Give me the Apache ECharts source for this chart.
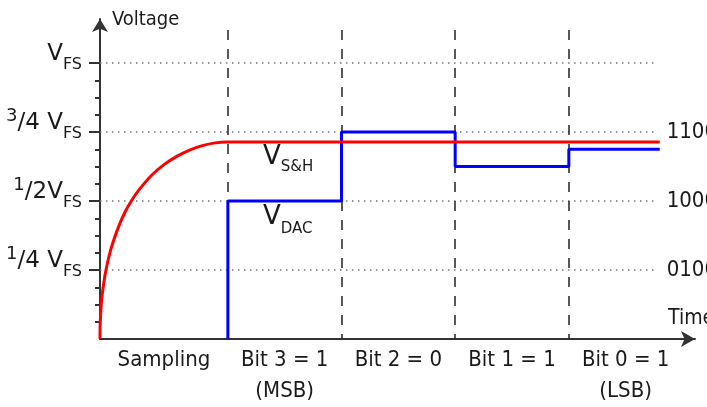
<!DOCTYPE html>
<html>
<head>
<meta charset="utf-8">
<script src="https://cdn.jsdelivr.net/npm/echarts@6/dist/echarts.min.js"></script>
<style>
  html, body { margin: 0; padding: 0; background: #fff; }
  #chart { width: 707px; height: 407px; }
</style>
</head>
<body>
<div id="chart"></div>
<script>
// ---- data ----
const phaseLabels = ['Sampling', 'Bit 3 = 1\n(MSB)', 'Bit 2 = 0', 'Bit 1 = 1', 'Bit 0 = 1\n(LSB)'];
const phaseCenters = [0.5625, 1.625, 2.625, 3.625, 4.625];
const phaseBounds = [1.125, 2.125, 3.125, 4.125];
const endTime = 4.925;
const levelValues = [0.25, 0.5, 0.75, 1];
const levelLabels = ['{n|1}{d|/4 }{v|V}{s|FS}', '{n|1}{d|/2}{v|V}{s|FS}', '{n|3}{d|/4 }{v|V}{s|FS}', '{v|V}{s|FS}'];
const codeLabels = ['0100', '1000', '1100', ''];
const minorTickValues = [0.0625, 0.125, 0.1875, 0.3125, 0.375, 0.4375, 0.5625, 0.625, 0.6875, 0.8125, 0.875, 0.9375];
const sampleHold = [
  [0, 0], [0.001, 0.044], [0.006, 0.092], [0.011, 0.126], [0.023, 0.172], [0.045, 0.234],
  [0.079, 0.299], [0.113, 0.349], [0.169, 0.413], [0.225, 0.464], [0.281, 0.504], [0.338, 0.538],
  [0.45, 0.592], [0.563, 0.632], [0.675, 0.662], [0.788, 0.685], [0.9, 0.701], [1.013, 0.711],
  [1.125, 0.714], [4.925, 0.714]
];
const dacOutput = [
  [1.125, 0], [1.125, 0.5], [2.125, 0.5], [2.125, 0.75], [3.125, 0.75],
  [3.125, 0.625], [4.125, 0.625], [4.125, 0.6875], [4.925, 0.6875]
];
const seriesNames = ['V_S&H', 'V_DAC'];

// ---- chart ----
const condFont = "'DejaVu Sans Condensed', Roboto, sans-serif";
const mainFont = "'DejaVu Sans', Verdana, sans-serif";
const textColor = '#1a1a1a';
const axisColor = '#333';
const chart = echarts.init(document.getElementById('chart'), null, { renderer: 'canvas' });

const gridLines = levelValues.map((v, i) => [
  { coord: [0, v], label: { formatter: codeLabels[i] } },
  { coord: [4.88, v] }
]);
const boundLines = phaseBounds.map(b => [
  { coord: [b, 1.12] },
  { coord: [b, 0] }
]);

chart.setOption({
  animation: false,
  backgroundColor: '#fff',
  grid: { left: 100, right: 12, top: 19, bottom: 68, containLabel: false, outerBoundsMode: 'none' },
  xAxis: {
    type: 'value', min: 0, max: 5.235,
    name: 'Time', nameLocation: 'end', nameGap: -27,
    nameTextStyle: { fontFamily: condFont, fontSize: 21, color: textColor, align: 'left', verticalAlign: 'bottom', padding: [0, 0, 10, 0] },
    axisLine: { show: true, symbol: ['none', 'arrow'], symbolSize: [12, 14], lineStyle: { color: axisColor, width: 2 } },
    axisTick: { show: false },
    splitLine: { show: false },
    axisLabel: {
      customValues: phaseCenters,
      formatter: v => { const i = phaseCenters.findIndex(c => Math.abs(c - v) < 1e-6); return i >= 0 ? phaseLabels[i] : ''; },
      fontFamily: condFont, fontSize: 22, lineHeight: 31, color: textColor, margin: 6
    }
  },
  yAxis: [{
    type: 'value', min: 0, max: 1.16,
    name: 'Voltage', nameLocation: 'end', nameGap: -1,
    nameTextStyle: { fontFamily: condFont, fontSize: 20, color: textColor, align: 'left', verticalAlign: 'middle', padding: [0, 0, 0, 12] },
    axisLine: { show: true, symbol: ['none', 'arrow'], symbolSize: [12, 13], lineStyle: { color: axisColor, width: 2 } },
    axisTick: { show: true, customValues: levelValues, length: 11, lineStyle: { color: axisColor, width: 2 } },
    splitLine: { show: false },
    axisLabel: {
      customValues: levelValues,
      margin: 18,
      formatter: v => { const i = levelValues.findIndex(c => Math.abs(c - v) < 1e-6); return i >= 0 ? levelLabels[i] : ''; },
      color: textColor, fontFamily: mainFont,
      rich: {
        n: { fontFamily: mainFont, fontSize: 18, lineHeight: 18, padding: [0, 0, 32, 0], color: textColor },
        d: { fontFamily: mainFont, fontSize: 23, lineHeight: 23, padding: [0, 0, 18, 0], color: textColor },
        v: { fontFamily: mainFont, fontSize: 23, lineHeight: 23, padding: [0, 0, 18, 0], color: textColor },
        s: { fontFamily: mainFont, fontSize: 16, lineHeight: 16, padding: [4, 0, 0, 0], color: textColor }
      }
    }
  }, {
    type: 'value', min: 0, max: 1.16, position: 'left',
    axisLine: { show: false },
    axisTick: { show: true, customValues: minorTickValues, length: 5, lineStyle: { color: axisColor, width: 2 } },
    axisLabel: { show: false },
    splitLine: { show: false }
  }],
  series: [{
    name: seriesNames[0],
    type: 'line',
    data: sampleHold,
    smooth: 0.3,
    showSymbol: false,
    lineStyle: { color: '#ff0000', width: 3 },
    z: 4,
    markLine: {
      silent: true, symbol: ['none', 'none'],
      lineStyle: { color: '#777', width: 1.5, type: [1.5, 4.5] },
      label: { show: true, position: 'end', distance: 12, fontFamily: condFont, fontSize: 22, color: textColor },
      data: gridLines,
      z: 1
    },
    markPoint: {
      silent: true, symbol: 'circle', symbolSize: 0,
      data: [{ coord: [1.434, 0.658] }],
      label: {
        show: true, position: 'inside', align: 'left', verticalAlign: 'middle',
        formatter: '{v|V}{s|S&H}',
        rich: {
          v: { fontFamily: mainFont, fontSize: 26, lineHeight: 26, color: textColor },
          s: { fontFamily: mainFont, fontSize: 15, lineHeight: 15, padding: [20, 0, 0, 0], color: textColor }
        }
      }
    }
  }, {
    name: seriesNames[1],
    type: 'line',
    data: dacOutput,
    showSymbol: false,
    lineStyle: { color: '#0000ff', width: 3 },
    z: 3,
    markLine: {
      silent: true, symbol: ['none', 'none'],
      lineStyle: { color: '#222', width: 1.5, type: [10, 9] },
      label: { show: false },
      data: boundLines,
      z: 1
    },
    markPoint: {
      silent: true, symbol: 'circle', symbolSize: 0,
      data: [{ coord: [1.434, 0.440] }],
      label: {
        show: true, position: 'inside', align: 'left', verticalAlign: 'middle',
        formatter: '{v|V}{s|DAC}',
        rich: {
          v: { fontFamily: mainFont, fontSize: 26, lineHeight: 26, color: textColor },
          s: { fontFamily: mainFont, fontSize: 15, lineHeight: 15, padding: [22, 0, 0, 0], color: textColor }
        }
      }
    }
  }]
});
</script>
</body>
</html>
